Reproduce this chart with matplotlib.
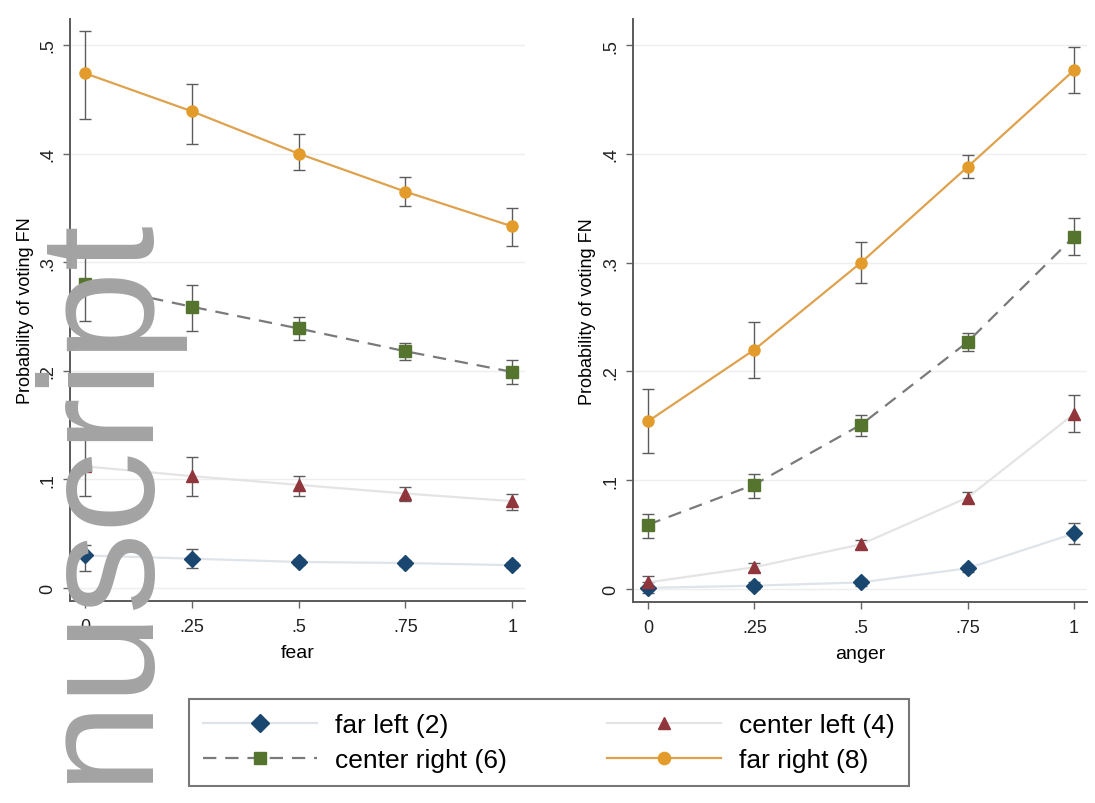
import numpy as np
import matplotlib
matplotlib.use("Agg")
import matplotlib.pyplot as plt

plt.rcParams['font.family'] = ['Liberation Sans', 'DejaVu Sans']

x = [0, 0.25, 0.5, 0.75, 1]
xticklabels = ['0', '.25', '.5', '.75', '1']
yticks = [0, 0.1, 0.2, 0.3, 0.4, 0.5]
yticklabels = ['0', '.1', '.2', '.3', '.4', '.5']

# fear panel: estimate, lower CI, upper CI
fear_far_left = [0.030, 0.027, 0.024, 0.023, 0.021]
fear_far_left_lo = [0.016, 0.018, 0.021, 0.020, 0.018]
fear_far_left_hi = [0.040, 0.036, 0.027, 0.026, 0.024]
fear_center_left = [0.112, 0.103, 0.095, 0.087, 0.080]
fear_center_left_lo = [0.085, 0.085, 0.085, 0.080, 0.072]
fear_center_left_hi = [0.139, 0.121, 0.103, 0.093, 0.087]
fear_center_right = [0.280, 0.259, 0.239, 0.218, 0.199]
fear_center_right_lo = [0.246, 0.237, 0.228, 0.210, 0.188]
fear_center_right_hi = [0.312, 0.279, 0.250, 0.226, 0.210]
fear_far_right = [0.474, 0.439, 0.400, 0.365, 0.333]
fear_far_right_lo = [0.432, 0.409, 0.385, 0.352, 0.315]
fear_far_right_hi = [0.513, 0.464, 0.418, 0.378, 0.350]

# anger panel
anger_far_left = [0.001, 0.003, 0.006, 0.019, 0.051]
anger_far_left_lo = [-0.004, 0.000, 0.003, 0.016, 0.041]
anger_far_left_hi = [0.006, 0.006, 0.009, 0.022, 0.061]
anger_center_left = [0.006, 0.020, 0.041, 0.084, 0.161]
anger_center_left_lo = [0.001, 0.016, 0.037, 0.079, 0.144]
anger_center_left_hi = [0.012, 0.024, 0.045, 0.089, 0.178]
anger_center_right = [0.059, 0.096, 0.151, 0.227, 0.324]
anger_center_right_lo = [0.047, 0.084, 0.141, 0.219, 0.307]
anger_center_right_hi = [0.069, 0.106, 0.160, 0.235, 0.341]
anger_far_right = [0.154, 0.220, 0.300, 0.388, 0.477]
anger_far_right_lo = [0.125, 0.194, 0.281, 0.378, 0.456]
anger_far_right_hi = [0.184, 0.245, 0.319, 0.399, 0.498]

labels = ['far left (2)', 'center left (4)', 'center right (6)', 'far right (8)']
markers = ['D', '^', 's', 'o']
mcolors = ['#1a476f', '#90353b', '#55752f', '#e39c2c']
lcolors = ['#dfe3ea', '#e4e4e4', '#7a7a7a', '#dea24f']
lstyles = ['-', '-', (0, (6, 4)), '-']
ecolor = '#5c5c5c'

fig = plt.figure(figsize=(10.95, 8.04), dpi=100)
ax1 = fig.add_axes([0.0639, 0.2512, 0.4155, 0.724])
ax2 = fig.add_axes([0.578, 0.2500, 0.4146, 0.7251])

panels = [
    (ax1, 'fear',
     [fear_far_left, fear_center_left, fear_center_right, fear_far_right],
     [fear_far_left_lo, fear_center_left_lo, fear_center_right_lo, fear_far_right_lo],
     [fear_far_left_hi, fear_center_left_hi, fear_center_right_hi, fear_far_right_hi]),
    (ax2, 'anger',
     [anger_far_left, anger_center_left, anger_center_right, anger_far_right],
     [anger_far_left_lo, anger_center_left_lo, anger_center_right_lo, anger_far_right_lo],
     [anger_far_left_hi, anger_center_left_hi, anger_center_right_hi, anger_far_right_hi]),
]

handles = []
for ax, xlab, ests, los, his in panels:
    handles = []
    for i in range(4):
        est = np.array(ests[i])
        lo = np.array(los[i])
        hi = np.array(his[i])
        ax.errorbar(x, est, yerr=[est - lo, hi - est], fmt='none',
                    ecolor=ecolor, elinewidth=1.0, capsize=4, capthick=1.0, zorder=3)
        h, = ax.plot(x, est, linestyle=lstyles[i], color=lcolors[i], lw=1.6,
                     marker=markers[i], markersize=8, markerfacecolor=mcolors[i],
                     markeredgecolor=mcolors[i], label=labels[i], zorder=4)
        handles.append(h)
    ax.set_xlim(-0.035, 1.03)
    ax.set_ylim(-0.012, 0.524)
    ax.set_xticks(x)
    ax.set_xticklabels(xticklabels, fontsize=13)
    ax.set_yticks(yticks)
    ax.set_yticklabels(yticklabels, fontsize=13, rotation=90, va='center')
    ax.set_xlabel(xlab, fontsize=14, labelpad=7)
    ax.set_ylabel('Probability of voting FN', fontsize=13, labelpad=4)
    ax.grid(axis='y', color='#eeeeee', lw=1.0)
    ax.set_axisbelow(True)
    for s in ['top', 'right']:
        ax.spines[s].set_visible(False)
    for s in ['left', 'bottom']:
        ax.spines[s].set_color('#5a5a5a')
        ax.spines[s].set_linewidth(1.4)
    ax.tick_params(colors='#666666', labelcolor='#222222', length=5, width=1)
    ax.tick_params(axis='x', pad=7)
    ax.tick_params(axis='y', pad=5)

order = [0, 2, 1, 3]
leg = fig.legend([handles[i] for i in order], [labels[i] for i in order],
                 loc='center', bbox_to_anchor=(0.5014, 0.0753), ncol=2,
                 fontsize=19, handlelength=4.3, columnspacing=3.8,
                 handletextpad=0.7, labelspacing=0.42, fancybox=False,
                 edgecolor='#555555', borderpad=0.52, borderaxespad=0,
                 markerscale=1.1)
leg.get_frame().set_linewidth(1.5)

# watermark
fig.text(143 / 1095, 590 / 804, 'nuscript', fontsize=117, color='#a3a3a3',
         rotation=90, rotation_mode='anchor', ha='right', va='baseline', zorder=10)

fig.savefig('out.png', dpi=100)
